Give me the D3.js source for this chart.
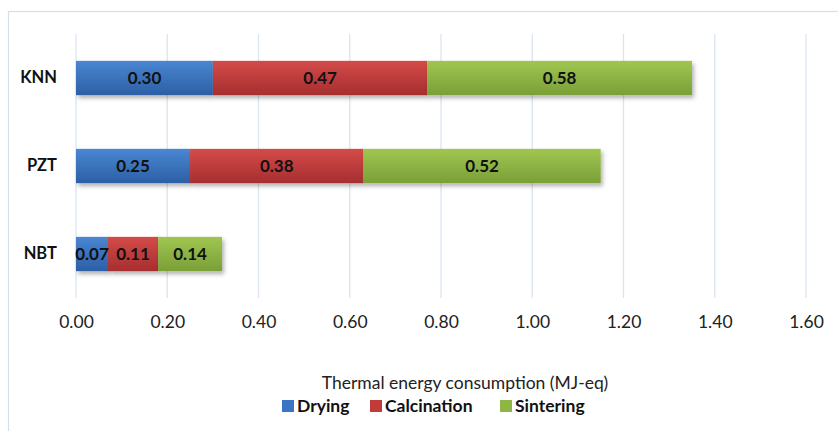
<!DOCTYPE html>
<html>
<head>
<meta charset="utf-8">
<script src="https://cdn.jsdelivr.net/npm/d3@7"></script>
<style>
  html, body { margin: 0; padding: 0; background: #fff; }
  svg { display: block; }
</style>
</head>
<body>
<svg id="chart" width="838" height="431"></svg>
<script>
// Thermal energy consumption per processing step (MJ-eq)
const categories = ["KNN", "PZT", "NBT"];
const seriesNames = ["Drying", "Calcination", "Sintering"];
const drying = [0.30, 0.25, 0.07];
const calcination = [0.47, 0.38, 0.11];
const sintering = [0.58, 0.52, 0.14];
const xTicks = [0, 0.2, 0.4, 0.6, 0.8, 1.0, 1.2, 1.4, 1.6];
const axisTitle = "Thermal energy consumption (MJ-eq)";

const seriesValues = [drying, calcination, sintering];
const colors = [
  { top: "#4a87d2", bottom: "#2c5fa5", legend: "#3b74c2" },
  { top: "#d44b49", bottom: "#a62e2f", legend: "#c23b3b" },
  { top: "#a0c651", bottom: "#7a9f37", legend: "#8db645" }
];

const rows = categories.map((c, i) => {
  const r = { category: c };
  seriesNames.forEach((s, j) => { r[s] = seriesValues[j][i]; });
  return r;
});
const stacked = d3.stack().keys(seriesNames)(rows);

const svg = d3.select("#chart");
const font = "Lato, 'Open Sans', sans-serif";

// outer frame
svg.append("rect")
  .attr("x", 8.5).attr("y", 11.5)
  .attr("width", 900).attr("height", 500)
  .attr("fill", "none").attr("stroke", "#d6e0ec").attr("stroke-width", 1.2);

const plot = { left: 76, right: 806, top: 34, bottom: 298 };

const x = d3.scaleLinear().domain([0, 1.6]).range([plot.left, plot.right]);
const y = d3.scaleBand().domain(categories)
  .range([plot.top, plot.bottom])
  .paddingInner(0.61).paddingOuter(0.305);

// defs: gradients and shadow
const defs = svg.append("defs");
colors.forEach((c, i) => {
  const g = defs.append("linearGradient").attr("id", "grad" + i)
    .attr("x1", 0).attr("y1", 0).attr("x2", 0).attr("y2", 1);
  g.append("stop").attr("offset", "0%").attr("stop-color", c.top);
  g.append("stop").attr("offset", "100%").attr("stop-color", c.bottom);
});
const f = defs.append("filter").attr("id", "shadow")
  .attr("x", "-5%").attr("y", "-20%").attr("width", "115%").attr("height", "160%");
f.append("feDropShadow").attr("dx", 2).attr("dy", 3).attr("stdDeviation", 2)
  .attr("flood-color", "#000").attr("flood-opacity", 0.3);

// vertical gridlines
svg.append("g").selectAll("line").data(xTicks).join("line")
  .attr("x1", d => x(d)).attr("x2", d => x(d))
  .attr("y1", plot.top).attr("y2", plot.bottom)
  .attr("stroke", "#dae5f0").attr("stroke-width", 1.3);

// x axis tick labels
const xAxis = d3.axisBottom(x).tickValues(xTicks)
  .tickFormat(d3.format(".2f")).tickSize(0).tickPadding(0);
const gx = svg.append("g").attr("transform", `translate(0,${plot.bottom + 16})`).call(xAxis);
gx.select(".domain").remove();
gx.selectAll("text").attr("font-family", font).attr("font-size", 17.5)
  .attr("fill", "#222").attr("dy", "0.35em").attr("y", 8);

// category labels
const yAxis = d3.axisLeft(y).tickSize(0).tickPadding(0);
const gy = svg.append("g").attr("transform", `translate(${plot.left - 19},0)`).call(yAxis);
gy.select(".domain").remove();
gy.selectAll("text").attr("font-family", font).attr("font-size", 16.5)
  .attr("font-weight", "bold").attr("fill", "#111");

// stacked bars
const barGroup = svg.append("g");
const layers = barGroup.selectAll("g.layer").data(stacked).join("g")
  .attr("class", "layer")
  .attr("fill", (d, i) => `url(#grad${i})`);
layers.selectAll("rect").data(d => d).join("rect")
  .attr("x", d => x(d[0]))
  .attr("y", d => y(d.data.category))
  .attr("width", d => x(d[1]) - x(d[0]))
  .attr("height", y.bandwidth())
  .attr("filter", "url(#shadow)");

// value labels
const labels = svg.append("g");
stacked.forEach(layer => {
  layer.forEach(d => {
    labels.append("text")
      .attr("x", (x(d[0]) + x(d[1])) / 2)
      .attr("y", y(d.data.category) + y.bandwidth() / 2)
      .attr("text-anchor", "middle").attr("dy", "0.35em")
      .attr("font-family", font).attr("font-size", 17).attr("font-weight", "bold")
      .attr("fill", "#111")
      .text(d3.format(".2f")(d[1] - d[0]));
  });
});

// axis title
svg.append("text")
  .attr("x", 465).attr("y", 383).attr("dy", "0.35em")
  .attr("text-anchor", "middle")
  .attr("font-family", font).attr("font-size", 17.5).attr("fill", "#222")
  .text(axisTitle);

// legend
const legendX = [282, 370, 500];
const legend = svg.append("g");
seriesNames.forEach((s, i) => {
  legend.append("rect")
    .attr("x", legendX[i]).attr("y", 400)
    .attr("width", 12).attr("height", 12)
    .attr("fill", colors[i].legend);
  legend.append("text")
    .attr("x", legendX[i] + 15).attr("y", 406).attr("dy", "0.35em")
    .attr("font-family", font).attr("font-size", 17.5).attr("font-weight", "bold")
    .attr("fill", "#111")
    .text(s);
});
</script>
</body>
</html>
